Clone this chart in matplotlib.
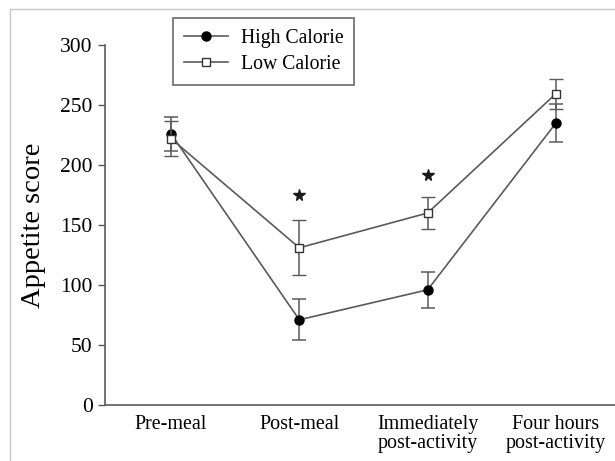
import matplotlib
matplotlib.use("Agg")
import matplotlib.pyplot as plt
from matplotlib.lines import Line2D

#  ------- Data -------  #
timepoints = ["Pre-meal", "Post-meal", "Immediately\npost-activity", "Four hours\npost-activity"]
high_cal = [226, 71, 96, 235]
high_err = [14, 17, 15, 16]
low_cal = [222, 131, 160, 259.5]
low_err = [14.5, 23, 13, 12.5]
star_idx = [1, 2]
star_y = [175, 191.5]

plt.rcParams['font.family'] = ['Liberation Serif', 'DejaVu Serif']

fig = plt.figure(figsize=(6.15, 4.61), dpi=100)
ax = fig.add_axes([0.1712, 0.1215, 0.8288, 0.7809])

line_col = '#5a5a5a'
x = list(range(len(timepoints)))

ax.errorbar(x, high_cal, yerr=high_err, color=line_col, lw=1.2, capsize=5,
            elinewidth=1.1, capthick=1.1, marker='o', ms=6.5, mfc='black',
            mec='black', zorder=3)
ax.errorbar(x, low_cal, yerr=low_err, color=line_col, lw=1.2, capsize=5,
            elinewidth=1.1, capthick=1.1, marker='s', ms=6, mfc='white',
            mec='#333333', mew=1, zorder=4)

ax.plot([x[i] for i in star_idx], star_y, ls='none', marker='*', ms=8.5,
        color='#1a1a1a', mec='#1a1a1a', zorder=5)

ax.set_xlim(-0.512, 3.46)
ax.set_ylim(0, 300)
ax.set_yticks([0, 50, 100, 150, 200, 250, 300])
ax.set_xticks(x)
ax.set_xticklabels(timepoints, fontsize=14.4, linespacing=1.0)
ax.tick_params(axis='y', labelsize=15.5, length=5, width=1, color=line_col, pad=4)
ax.tick_params(axis='x', length=0, pad=7)
for s in ['top', 'right']:
    ax.spines[s].set_visible(False)
for s in ['left', 'bottom']:
    ax.spines[s].set_color(line_col)
    ax.spines[s].set_linewidth(1.2)

ax.set_ylabel("Appetite score", fontsize=20.5, labelpad=10)

handles = [
    Line2D([], [], color=line_col, lw=1.2, marker='o', ms=6.5, mfc='black', mec='black'),
    Line2D([], [], color=line_col, lw=1.2, marker='s', ms=6, mfc='white', mec='#333333'),
]
leg = ax.legend(handles, ["High Calorie", "Low Calorie"], loc='upper left',
                bbox_to_anchor=(172.7 / 615, 1 - 18.3 / 461), bbox_transform=fig.transFigure,
                fontsize=14.2, frameon=True, fancybox=False, handlelength=2.25,
                handletextpad=0.65, borderpad=0.55, labelspacing=0.35, borderaxespad=0)
leg.get_frame().set_edgecolor('#444444')
leg.get_frame().set_linewidth(1.2)

# light grey frame round the figure
fig.add_artist(Line2D([10 / 615, 10 / 615], [1 - 9.5 / 461, 0], color='#c8c8c8', lw=1,
                      transform=fig.transFigure))
fig.add_artist(Line2D([10 / 615, 1], [1 - 9.5 / 461, 1 - 9.5 / 461], color='#c8c8c8', lw=1,
                      transform=fig.transFigure))

fig.savefig("out.png", dpi=100)
